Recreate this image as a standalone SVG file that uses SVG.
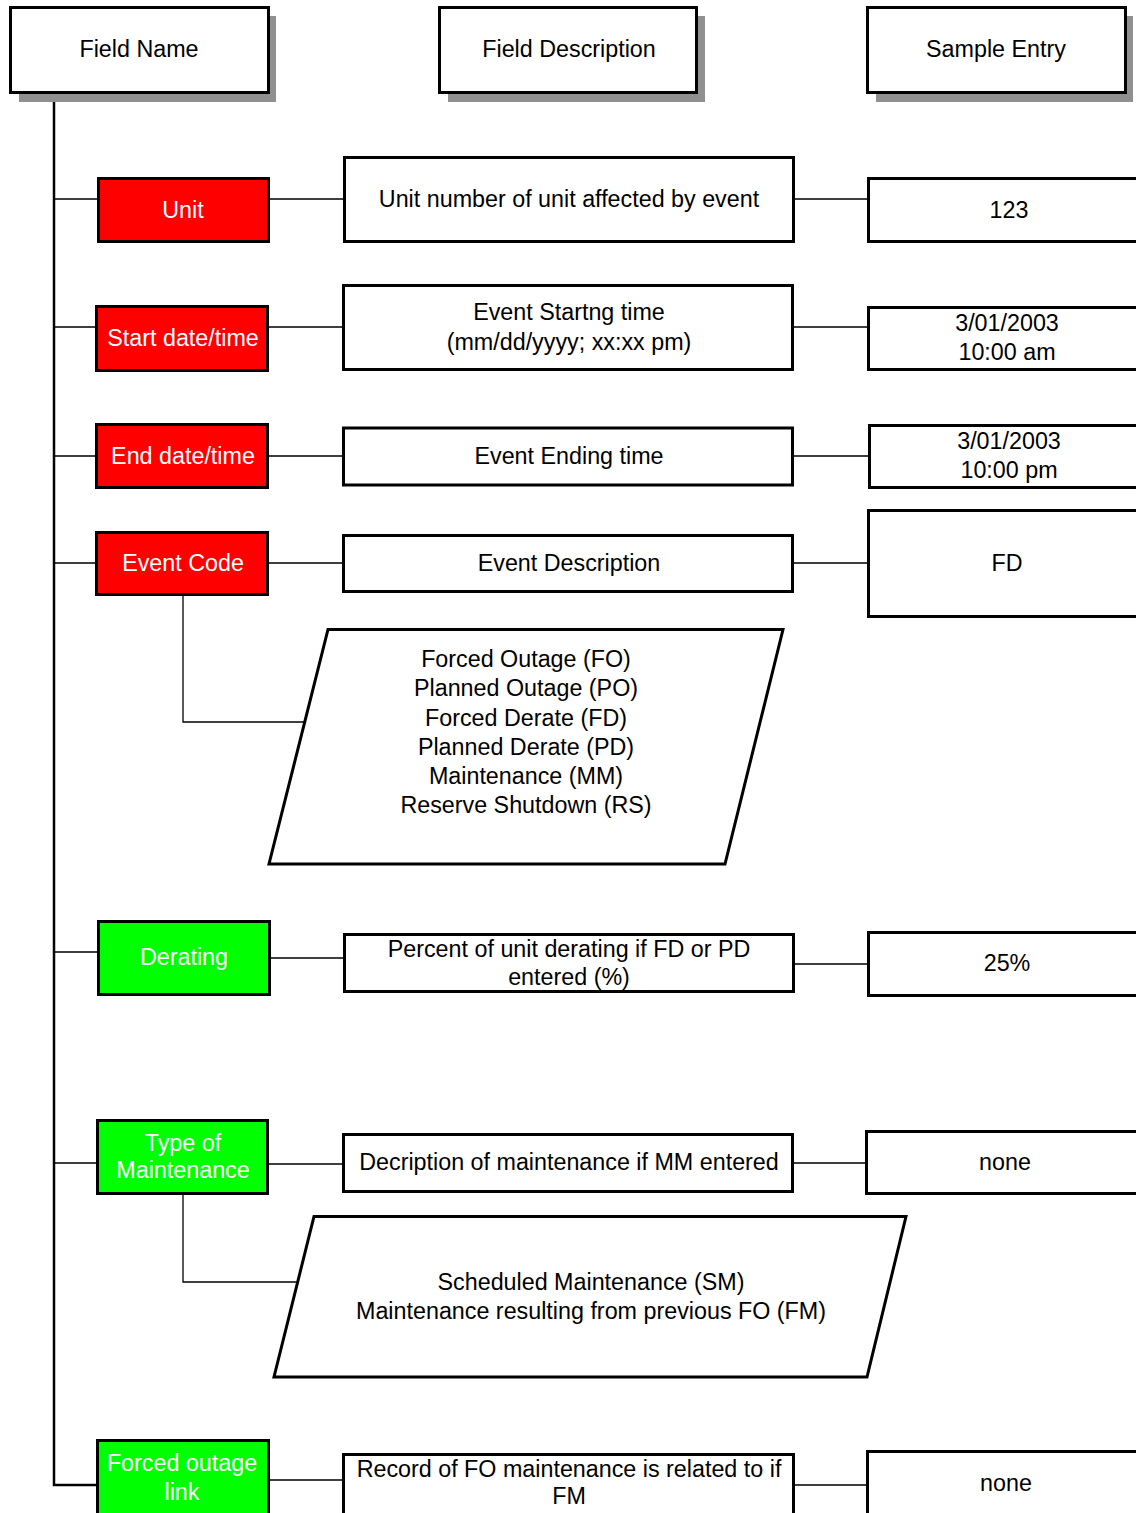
<svg xmlns="http://www.w3.org/2000/svg" width="1136" height="1513" viewBox="0 0 1136 1513">
<style>
text{font-family:"Liberation Sans",Arial,sans-serif;font-size:23.3px;text-anchor:middle;fill:#000}
.w{fill:#fff}
.box{fill:#fff;stroke:#000;stroke-width:3}
.red{fill:#ff0000;stroke:#000;stroke-width:3}
.grn{fill:#00ff00;stroke:#000;stroke-width:3}
.sh{fill:#909090}
.c{fill:none;stroke:#000;stroke-width:1.3}
.t{fill:none;stroke:#000;stroke-width:2.5}
</style>
<rect width="1136" height="1513" fill="#fff"/>
<g id="connectors">
<path class="t" d="M54,93V1485H96"/>
<path class="c" d="M54,199H97M270,199H343M795,199H867"/>
<path class="c" d="M54,327H96M269,327H342M794,327H867"/>
<path class="c" d="M54,456H96M269,456H342M794,456H868"/>
<path class="c" d="M54,563H96M269,563H342M794,563H867"/>
<path class="c" d="M183,596V722H304"/>
<path class="c" d="M54,952H97M271,958H343M795,964H867"/>
<path class="c" d="M54,1163H96M269,1164H342M794,1163H866"/>
<path class="c" d="M183,1195V1282H298"/>
<path class="c" d="M270,1480H342M795,1485H866"/>
</g>
<g id="h-fieldname"><rect class="sh" x="19" y="16" width="257" height="86"/><rect class="box" x="10.5" y="7.5" width="258" height="85"/><text x="139" y="57">Field Name</text></g>
<g id="h-fielddesc"><rect class="sh" x="448" y="16" width="257" height="86"/><rect class="box" x="439.5" y="7.5" width="257" height="85"/><text x="569" y="57">Field Description</text></g>
<g id="h-sample"><rect class="sh" x="876" y="16" width="257" height="86"/><rect class="box" x="867.5" y="7.5" width="258" height="85"/><text x="996" y="57">Sample Entry</text></g>

<g id="unit"><rect class="red" x="98.5" y="178.5" width="170" height="63"/><text class="w" x="183" y="218">Unit</text></g>
<g id="unit-desc"><rect class="box" x="344.5" y="157.5" width="449" height="84"/><text x="569" y="207">Unit number of unit affected by event</text></g>
<g id="unit-sample"><rect class="box" x="868.5" y="178.5" width="300" height="63"/><text x="1009" y="218">123</text></g>

<g id="start"><rect class="red" x="96.5" y="306.5" width="171" height="64"/><text class="w" x="183" y="346">Start date/time</text></g>
<g id="start-desc"><rect class="box" x="343.5" y="285.5" width="449" height="84"/><text x="569" y="320">Event Startng time</text><text x="569" y="350">(mm/dd/yyyy; xx:xx pm)</text></g>
<g id="start-sample"><rect class="box" x="868.5" y="307.5" width="300" height="62"/><text x="1007" y="331">3/01/2003</text><text x="1007" y="360">10:00 am</text></g>

<g id="end"><rect class="red" x="96.5" y="424.5" width="171" height="63"/><text class="w" x="183" y="464">End date/time</text></g>
<g id="end-desc"><rect class="box" x="343.5" y="428" width="449" height="57"/><text x="569" y="464">Event Ending time</text></g>
<g id="end-sample"><rect class="box" x="869.5" y="425.5" width="300" height="62"/><text x="1009" y="449">3/01/2003</text><text x="1009" y="478">10:00 pm</text></g>

<g id="code"><rect class="red" x="96.5" y="532.5" width="171" height="62"/><text class="w" x="183" y="571">Event Code</text></g>
<g id="code-desc"><rect class="box" x="343.5" y="535.5" width="449" height="56"/><text x="569" y="571">Event Description</text></g>
<g id="code-sample"><rect class="box" x="868.5" y="510.5" width="300" height="106"/><text x="1007" y="571">FD</text></g>
<g id="code-list"><polygon class="box" points="328,629.5 783,629.5 725,864 269,864"/>
<text x="526" y="667">Forced Outage (FO)</text><text x="526" y="696">Planned Outage (PO)</text><text x="526" y="726">Forced Derate (FD)</text><text x="526" y="755">Planned Derate (PD)</text><text x="526" y="784">Maintenance (MM)</text><text x="526" y="813">Reserve Shutdown (RS)</text></g>

<g id="derating"><rect class="grn" x="98.5" y="921.5" width="171" height="73"/><text class="w" x="184" y="965">Derating</text></g>
<g id="derating-desc"><rect class="box" x="344.5" y="934.5" width="449" height="57"/><text x="569" y="957">Percent of unit derating if FD or PD</text><text x="569" y="985">entered (%)</text></g>
<g id="derating-sample"><rect class="box" x="868.5" y="932.5" width="300" height="63"/><text x="1007" y="971">25%</text></g>

<g id="maint"><rect class="grn" x="97.5" y="1120.5" width="170" height="73"/><text class="w" x="183" y="1151">Type of</text><text class="w" x="183" y="1178">Maintenance</text></g>
<g id="maint-desc"><rect class="box" x="343.5" y="1134.5" width="449" height="57"/><text x="569" y="1170">Decription of maintenance if MM entered</text></g>
<g id="maint-sample"><rect class="box" x="866.5" y="1131.5" width="300" height="62"/><text x="1005" y="1170">none</text></g>
<g id="maint-list"><polygon class="box" points="314,1216.5 906,1216.5 867,1377 274,1377"/>
<text x="591" y="1290">Scheduled Maintenance (SM)</text><text x="591" y="1319">Maintenance resulting from previous FO (FM)</text></g>

<g id="folink"><rect class="grn" x="97.5" y="1440.5" width="171" height="100"/><text class="w" x="182" y="1471">Forced outage</text><text class="w" x="182" y="1500">link</text></g>
<g id="folink-desc"><rect class="box" x="343.5" y="1454.5" width="450" height="100"/><text x="569" y="1477">Record of FO maintenance is related to if</text><text x="569" y="1504">FM</text></g>
<g id="folink-sample"><rect class="box" x="867.5" y="1451.5" width="300" height="100"/><text x="1006" y="1491">none</text></g>
</svg>
